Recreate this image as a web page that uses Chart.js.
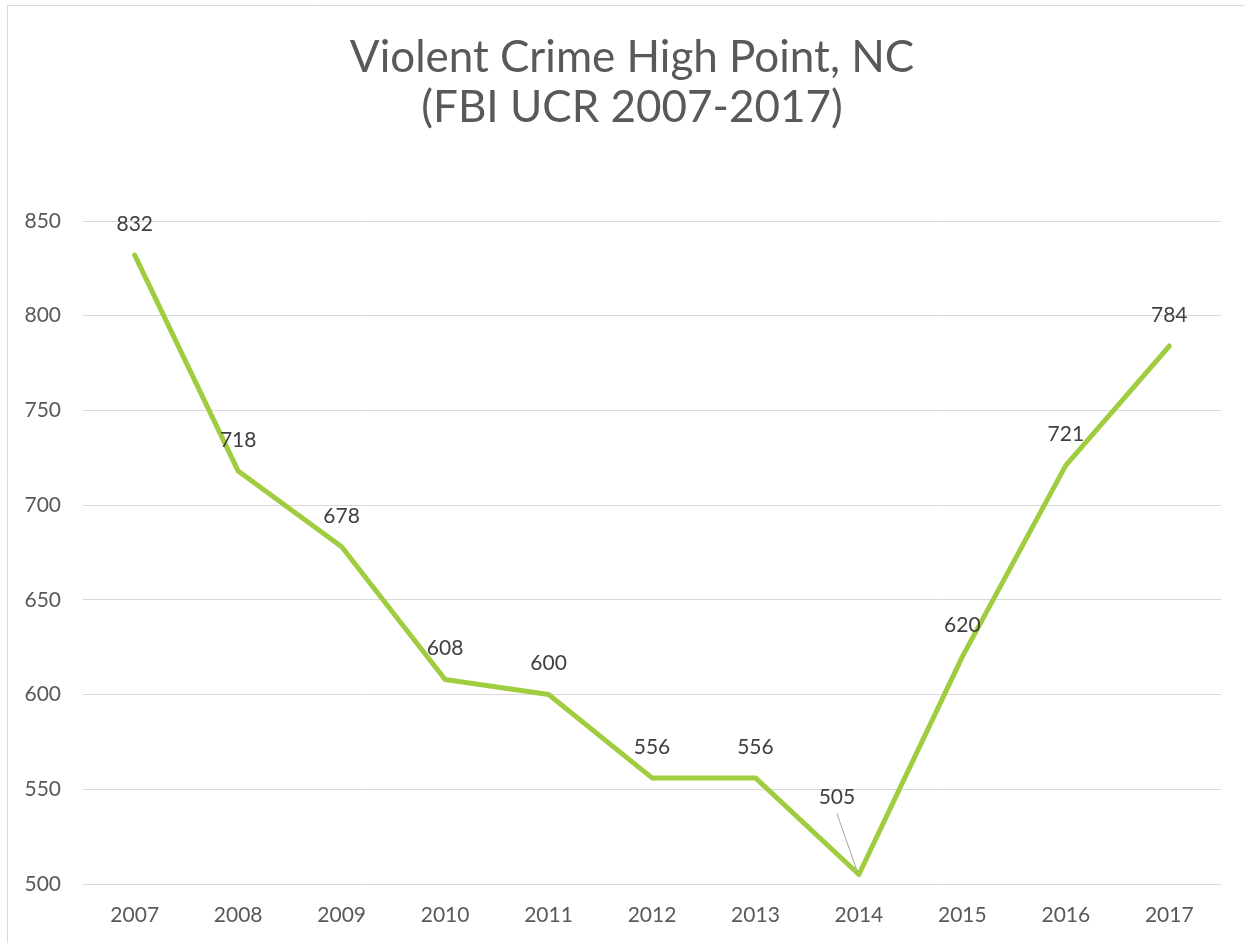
<!DOCTYPE html>
<html lang="en">
<head>
  <meta charset="UTF-8" />
  <title>Violent Crime High Point, NC</title>
  <script src="https://cdn.jsdelivr.net/npm/chart.js"></script>
  <style>
    body { margin: 0; background: #fff; }
    #wrap { width: 1244px; height: 943px; position: relative; }
  </style>
</head>
<body>
  <div id="wrap"><canvas id="crimeChart" width="1244" height="943"></canvas></div>

  <script>
    const years = ['2007', '2008', '2009', '2010', '2011', '2012', '2013', '2014', '2015', '2016', '2017'];
    const violentCrimes = [832, 718, 678, 608, 600, 556, 556, 505, 620, 721, 784];
    const titleLines = ['Violent Crime High Point, NC', '(FBI UCR 2007-2017)'];

    const FONT = 'Lato, "Open Sans", sans-serif';

    // white background, thin frame of the chart object, and the title
    // (title centred on the original chart object, which is wider than the picture)
    const frame = {
      id: 'frame',
      beforeDraw(chart) {
        const c = chart.ctx;
        c.save();
        c.fillStyle = '#fff';
        c.fillRect(0, 0, chart.width, chart.height);
        c.strokeStyle = '#d9d9d9';
        c.lineWidth = 1;
        c.beginPath();
        c.moveTo(7.5, chart.height);
        c.lineTo(7.5, 5.5);
        c.lineTo(chart.width, 5.5);
        c.stroke();

        c.font = '44px ' + FONT;
        c.fillStyle = '#595959';
        c.textAlign = 'center';
        c.textBaseline = 'middle';
        titleLines.forEach((t, i) => c.fillText(t, 632, 58 + i * 50));
        c.restore();
      }
    };

    // value labels above each point, with a leader line for the low point
    const valueLabels = {
      id: 'valueLabels',
      afterDatasetsDraw(chart) {
        const c = chart.ctx;
        const pts = chart.getDatasetMeta(0).data;
        c.save();
        c.font = '21px ' + FONT;
        c.fillStyle = '#404040';
        c.textAlign = 'center';
        c.textBaseline = 'middle';
        pts.forEach((p, i) => {
          let dx = 0, dy = -31;
          if (i === 7) {
            dx = -22; dy = -77;
            c.strokeStyle = '#a6a6a6';
            c.lineWidth = 1;
            c.beginPath();
            c.moveTo(p.x + dx, p.y + dy + 16);
            c.lineTo(p.x - 1, p.y - 1);
            c.stroke();
          }
          c.fillText(String(violentCrimes[i]), p.x + dx, p.y + dy);
        });
        c.restore();
      }
    };

    new Chart(document.getElementById('crimeChart'), {
      type: 'line',
      data: {
        labels: years,
        datasets: [{
          data: violentCrimes,
          borderColor: '#9fcd3f',
          borderWidth: 5,
          borderJoinStyle: 'round',
          borderCapStyle: 'round',
          pointRadius: 0,
          tension: 0,
          fill: false
        }]
      },
      options: {
        responsive: false,
        animation: false,
        layout: { padding: { top: 221, right: 23, bottom: 0, left: 0 } },
        plugins: {
          legend: { display: false },
          tooltip: { enabled: false },
          title: { display: false }
        },
        scales: {
          x: {
            offset: true,
            grid: { display: false },
            border: { display: false },
            ticks: { color: '#595959', font: { family: FONT, size: 21 }, padding: 11 },
            afterFit(scale) { scale.height = 59; }
          },
          y: {
            min: 500,
            max: 850,
            ticks: { stepSize: 50, color: '#595959', font: { family: FONT, size: 21 }, padding: 22 },
            grid: { color: '#d9d9d9', lineWidth: 1, drawTicks: false },
            border: { display: false },
            afterFit(scale) { scale.width = 83; }
          }
        }
      },
      plugins: [frame, valueLabels]
    });
  </script>
</body>
</html>
